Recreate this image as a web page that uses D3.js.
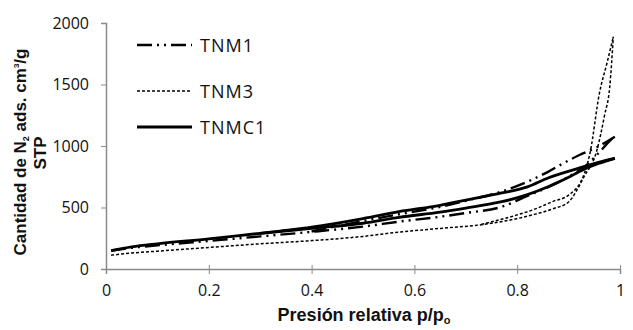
<!DOCTYPE html>
<html><head><meta charset="utf-8">
<script src="https://cdn.jsdelivr.net/npm/d3@7"></script>
<style>
html,body{margin:0;padding:0;background:#fff;}
svg{display:block;}
</style></head>
<body>
<svg id="chart" width="633" height="330"></svg>
<script>
// ---- data ----
const xTicks = [0, 0.2, 0.4, 0.6, 0.8, 1];
const xTickLabels = ["0", "0.2", "0.4", "0.6", "0.8", "1"];
const yTicks = [0, 500, 1000, 1500, 2000];

const tnmc1AdsP = [0.01,0.05,0.1,0.2,0.3,0.4,0.5,0.57,0.65,0.7,0.77,0.82,0.86,0.9,0.92,0.94,0.96,0.99];
const tnmc1AdsV = [150,180,205,245,290,330,372,420,462,495,547,605,669,745,790,830,860,900];
const tnmc1DesP = [0.3,0.4,0.5,0.57,0.65,0.7,0.77,0.82,0.86,0.92,0.94,0.96,0.99];
const tnmc1DesV = [290,340,410,466,518,560,618,668,740,820,845,870,900];

const tnm1AdsP = [0.01,0.05,0.1,0.2,0.3,0.4,0.5,0.57,0.65,0.7,0.77,0.82,0.86,0.9,0.935,0.96,0.985,0.99];
const tnm1AdsV = [150,172,192,228,265,302,345,385,425,455,506,595,665,750,845,950,1060,1076];
const tnm1DesP = [0.4,0.5,0.57,0.65,0.7,0.77,0.82,0.86,0.89,0.92,0.955,0.99];
const tnm1DesV = [305,390,445,505,555,630,710,790,860,925,990,1076];

const tnm3AdsP = [0.01,0.05,0.1,0.2,0.3,0.38,0.5,0.57,0.65,0.73,0.8,0.83,0.87,0.9,0.93,0.955,0.97,0.98,0.987];
const tnm3AdsV = [112,130,145,175,205,225,265,300,330,360,410,440,490,545,750,965,1250,1480,1889];
const tnm3DesP = [0.73,0.8,0.83,0.87,0.9,0.93,0.942,0.96,0.975,0.987];
const tnm3DesV = [362,440,480,550,600,770,950,1430,1680,1889];

const seriesNames = ["TNM1", "TNM3", "TNMC1"];

// ---- layout ----
const svg = d3.select("#chart");
const x = d3.scaleLinear().domain([0, 1]).range([106, 620]);
const y = d3.scaleLinear().domain([0, 2000]).range([269, 23]);

const styles = {
  TNM1:  {w: 2.4, dash: "15,5,2,5,2,5"},
  TNM3:  {w: 1.5, dash: "3,2"},
  TNMC1: {w: 2.8, dash: null}
};

// axes
const axisColor = "#8a8a8a";
const gx = svg.append("g").attr("transform", `translate(0,${y(0)})`)
  .call(d3.axisBottom(x).tickValues(xTicks).tickFormat((d,i)=>xTickLabels[i]).tickSizeOuter(0).tickSize(5));
gx.select(".domain").attr("stroke", axisColor).attr("stroke-width", 1.5);
gx.selectAll(".tick line").attr("stroke", axisColor).attr("y1", -4).attr("y2", 5);
gx.selectAll(".tick text").attr("y", 16).attr("dy", "0.71em")
  .attr("font-family", "'Open Sans', sans-serif").attr("font-size", 16).attr("fill", "#111");

const gy = svg.append("g").attr("transform", `translate(${x(0)},0)`)
  .call(d3.axisLeft(y).tickValues(yTicks).tickFormat(d3.format("d")).tickSizeOuter(0).tickSize(5));
gy.select(".domain").attr("stroke", axisColor).attr("stroke-width", 1.5);
gy.selectAll(".tick line").attr("stroke", axisColor);
gy.selectAll(".tick text").attr("x", -17)
  .attr("font-family", "'Open Sans', sans-serif").attr("font-size", 16).attr("fill", "#111");

// lines
const line = d3.line().x(d => x(d[0])).y(d => y(d[1])).curve(d3.curveMonotoneX);
function branch(P, V, name) {
  const st = styles[name];
  svg.append("path")
    .datum(P.map((p, i) => [p, V[i]]))
    .attr("d", line)
    .attr("fill", "none")
    .attr("stroke", "#000")
    .attr("stroke-width", st.w)
    .attr("stroke-dasharray", st.dash)
    .attr("stroke-linejoin", "round");
}
branch(tnm3AdsP, tnm3AdsV, "TNM3");
branch(tnm3DesP, tnm3DesV, "TNM3");
branch(tnm1AdsP, tnm1AdsV, "TNM1");
branch(tnm1DesP, tnm1DesV, "TNM1");
branch(tnmc1AdsP, tnmc1AdsV, "TNMC1");
branch(tnmc1DesP, tnmc1DesV, "TNMC1");

// legend
const legY = [45, 91, 127];
seriesNames.forEach((name, i) => {
  const st = styles[name];
  svg.append("line").attr("x1", 137).attr("x2", 192).attr("y1", legY[i]).attr("y2", legY[i])
    .attr("stroke", "#000").attr("stroke-width", st.w).attr("stroke-dasharray", st.dash);
  svg.append("text").attr("x", 200).attr("y", legY[i] + 7)
    .attr("font-family", "'Open Sans', sans-serif").attr("font-size", 18)
    .attr("letter-spacing", 1)
    .attr("fill", "#111").text(name);
});

// axis titles
const xt = svg.append("text").attr("x", 364).attr("y", 321).attr("text-anchor", "middle")
  .attr("font-family", "'Liberation Sans', Arial, sans-serif").attr("font-weight", "bold")
  .attr("font-size", 18).attr("fill", "#111");
xt.append("tspan").text("Presión relativa p/p");
xt.append("tspan").attr("font-size", 11).attr("dy", 3).text("o");

const yt = svg.append("text").attr("transform", "translate(26,152) rotate(-90)")
  .attr("text-anchor", "middle")
  .attr("font-family", "'Liberation Sans', Arial, sans-serif").attr("font-weight", "bold")
  .attr("font-size", 17).attr("fill", "#111");
yt.append("tspan").text("Cantidad de N");
yt.append("tspan").attr("font-size", 9).attr("dy", 3).text("2");
yt.append("tspan").attr("dy", -3).text(" ads. cm");
yt.append("tspan").attr("font-size", 8).attr("dy", -7).text("3");
yt.append("tspan").attr("dy", 7).text("/g");

svg.append("text").attr("transform", "translate(46,153) rotate(-90)")
  .attr("text-anchor", "middle")
  .attr("font-family", "'Liberation Sans', Arial, sans-serif").attr("font-weight", "bold")
  .attr("font-size", 17).attr("fill", "#111").text("STP");
</script>
</body></html>
